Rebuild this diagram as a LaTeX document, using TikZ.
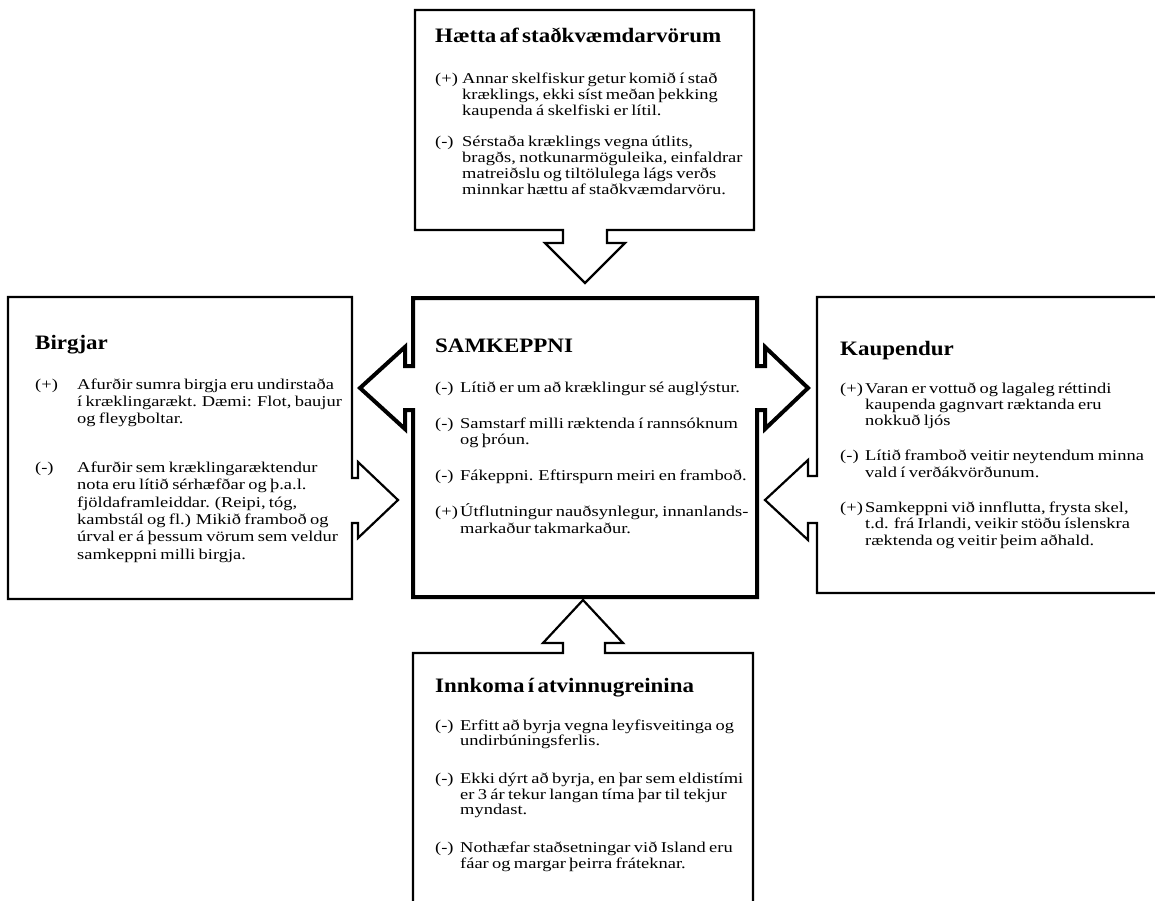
\documentclass[tikz,border=0pt]{standalone}
\usepackage{fontspec}
\setmainfont{Liberation Serif}[FakeStretch=1.23]
\newfontfamily\titfont{Liberation Serif}[FakeStretch=1.12]
\newlength\hng
\newcommand{\tit}[1]{{\titfont\bfseries\fontsize{20.5}{22}\selectfont #1\par}}
\newcommand{\pkt}[2]{\par\hangindent=\hng\hangafter=1\noindent\makebox[\hng][l]{#1}#2\par}

\begin{document}
\begin{tikzpicture}[x=1pt,y=-1pt,line join=miter,
  kassi/.style={draw,fill=white,line width=2.2pt},
  txt/.style={anchor=base west,inner sep=0pt,text width=330pt}]
  \fill[white] (0,0) rectangle (1155,901);
  \useasboundingbox (0,0) rectangle (1155,901);
  % kassar med orvum
  \draw[kassi] (415,10)--(754,10)--(754,230)--(607,230)--(607,243)--(625,243)--(585,283)
    --(545,243)--(563,243)--(563,230)--(415,230)--cycle;
  \draw[kassi,line width=4pt] (413,298)--(757,298)--(757,366)--(765,366)--(765,347)--(808,388)
    --(765,429)--(765,410)--(757,410)--(757,597)--(413,597)--(413,410)--(405,410)--(405,429)
    --(360,388)--(405,347)--(405,366)--(413,366)--cycle;
  \draw[kassi] (8,297)--(352,297)--(352,478)--(358,478)--(358,462)--(398,500)--(358,538)
    --(358,523)--(352,523)--(352,599)--(8,599)--cycle;
  \draw[kassi] (817,297)--(1165,297)--(1165,593)--(817,593)--(817,523)--(808,523)--(808,540)
    --(765,500)--(808,460)--(808,476)--(817,476)--cycle;
  \draw[kassi] (413,653)--(563,653)--(563,643)--(543,643)--(583,600)--(623,643)--(605,643)
    --(605,653)--(753,653)--(753,910)--(413,910)--cycle;
  % textar
  \node[txt] (hatta) at (435,43) {\fontsize{15}{16}\selectfont\setlength\hng{27pt}%
    \tit{Hætta af staðkvæmdarvörum}\vspace{25pt}
    \pkt{(+)}{Annar skelfiskur getur komið í stað\newline kræklings, ekki síst meðan þekking\newline kaupenda á skelfiski er lítil.}\vspace{15pt}
    \pkt{(-)}{Sérstaða kræklings vegna útlits,\newline bragðs, notkunarmöguleika, einfaldrar\newline matreiðslu og tiltölulega lágs verðs\newline minnkar hættu af staðkvæmdarvöru.}};
  \node[txt] (samk) at (435,352) {\fontsize{15}{16.5}\selectfont\setlength\hng{25pt}%
    \tit{SAMKEPPNI}\vspace{23.5pt}
    \pkt{(-)}{Lítið er um að kræklingur sé auglýstur.}\vspace{19.5pt}
    \pkt{(-)}{Samstarf milli ræktenda í rannsóknum\newline og þróun.}\vspace{19.5pt}
    \pkt{(-)}{Fákeppni. Eftirspurn meiri en framboð.}\vspace{19.5pt}
    \pkt{(+)}{Útflutningur nauðsynlegur, innanlands-\newline markaður takmarkaður.}};
  \node[txt] (birgjar) at (35,349) {\fontsize{15}{17.3}\selectfont\setlength\hng{42pt}%
    \tit{Birgjar}\vspace{22.7pt}
    \pkt{(+)}{Afurðir sumra birgja eru undirstaða\newline í kræklingarækt. Dæmi: Flot, baujur\newline og fleygboltar.}\vspace{31.7pt}
    \pkt{(-)}{Afurðir sem kræklingaræktendur\newline nota eru lítið sérhæfðar og þ.a.l.\newline fjöldaframleiddar. (Reipi, tóg,\newline kambstál og fl.) Mikið framboð og\newline úrval er á þessum vörum sem veldur\newline samkeppni milli birgja.}};
  \node[txt] (kaup) at (840,355) {\fontsize{15}{16.2}\selectfont\setlength\hng{25pt}%
    \tit{Kaupendur}\vspace{21.8pt}
    \pkt{(+)}{Varan er vottuð og lagaleg réttindi\newline kaupenda gagnvart ræktanda eru\newline nokkuð ljós}\vspace{19.3pt}
    \pkt{(-)}{Lítið framboð veitir neytendum minna\newline vald í verðákvörðunum.}\vspace{19.3pt}
    \pkt{(+)}{Samkeppni við innflutta, frysta skel,\newline t.d. frá Irlandi, veikir stöðu íslenskra\newline ræktenda og veitir þeim aðhald.}};
  \node[txt] (innkoma) at (435,692) {\fontsize{15}{15.5}\selectfont\setlength\hng{25pt}%
    \tit{Innkoma í atvinnugreinina}\vspace{22.5pt}
    \pkt{(-)}{Erfitt að byrja vegna leyfisveitinga og\newline undirbúningsferlis.}\vspace{22.5pt}
    \pkt{(-)}{Ekki dýrt að byrja, en þar sem eldistími\newline er 3 ár tekur langan tíma þar til tekjur\newline myndast.}\vspace{22.5pt}
    \pkt{(-)}{Nothæfar staðsetningar við Island eru\newline fáar og margar þeirra fráteknar.}};
\end{tikzpicture}
\end{document}
